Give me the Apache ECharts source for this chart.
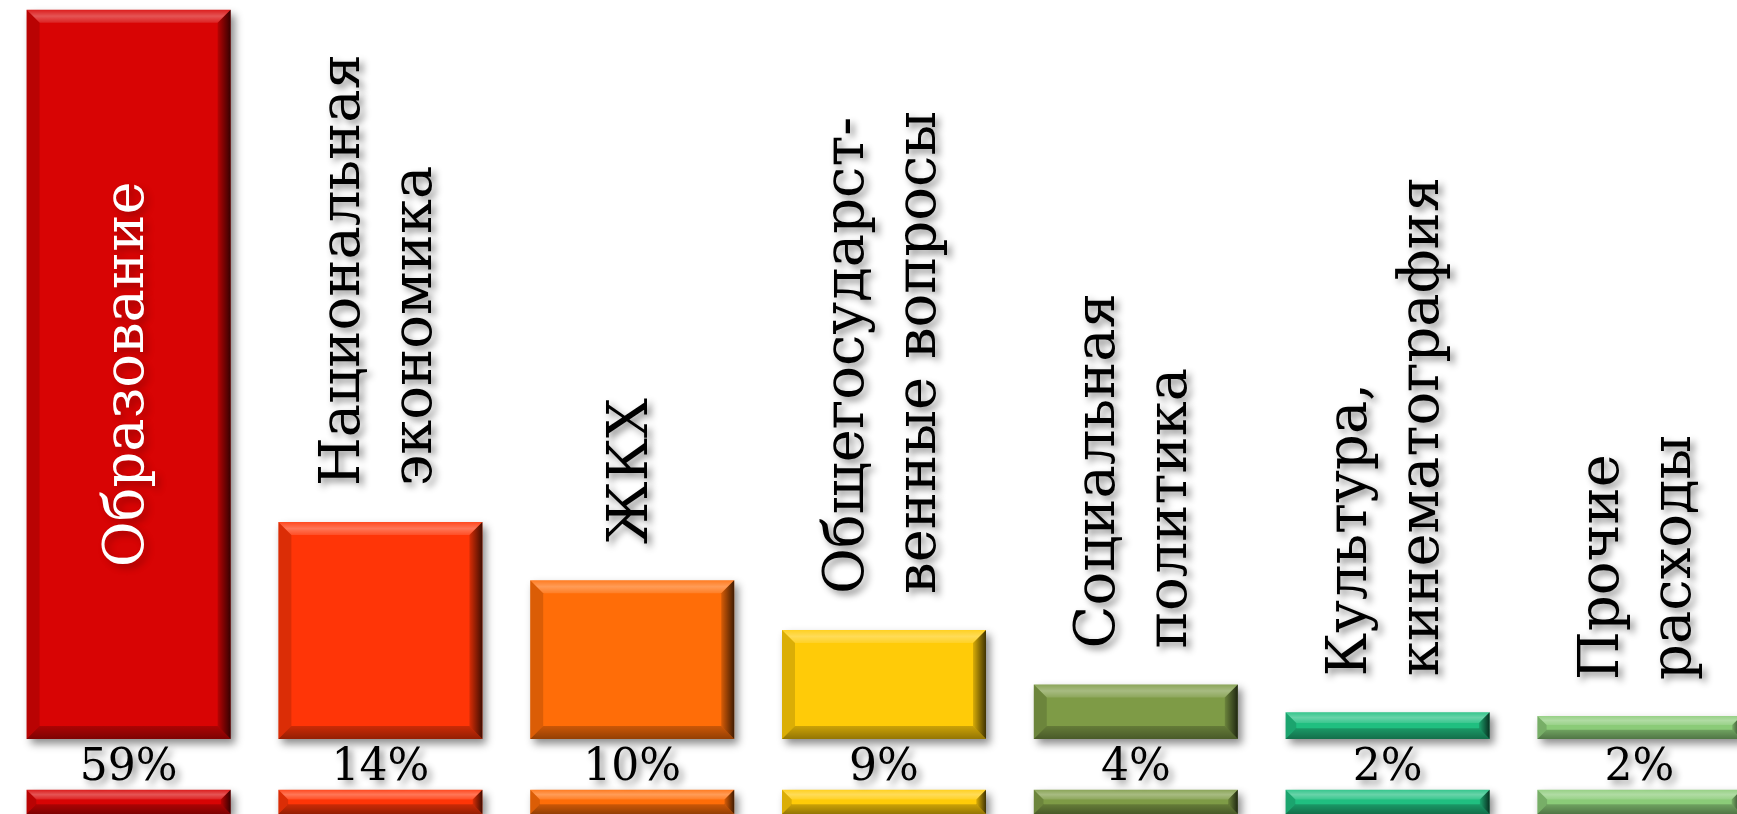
<!DOCTYPE html>
<html>
<head>
<meta charset="utf-8">
<script src="https://cdn.jsdelivr.net/npm/echarts/dist/echarts.min.js"></script>
<style>
html,body{margin:0;padding:0;background:#ffffff;}
#chart{width:1737px;height:814px;}
</style>
</head>
<body>
<div id="chart"></div>
<script>
// ---- data ----
const categories = [
  "Образование",
  "Национальная\nэкономика",
  "ЖКХ",
  "Общегосударст-\nвенные вопросы",
  "Социальная\nполитика",
  "Культура,\nкинематография",
  "Прочие\nрасходы"
];
// bar heights as drawn (in the chart's value units)
const barValues = [60.2, 17.9, 13.1, 9.0, 4.5, 2.2, 1.9];
// share labels printed under the bars
const shareLabels = ["59%", "14%", "10%", "9%", "4%", "2%", "2%"];
// thin bars of the second (cut-off) row at the bottom
const lowerValues = [2, 2, 2, 2, 2, 2, 2];

// ---- styling ----
const colors = ['#D80404', '#FF3507', '#FF6D08', '#FFCB08', '#7E9B46', '#20BF80', '#8BCB78'];
const BAR_W = 204;
const GAP = 4.2;          // empty band between the two rows (value units)
const FONT = '"DejaVu Serif", "Liberation Serif", serif';

const chart = echarts.init(document.getElementById('chart'), null, {renderer: 'canvas'});

const textShadow = {
  textShadowColor: 'rgba(0,0,0,0.45)',
  textShadowBlur: 7,
  textShadowOffsetX: 4,
  textShadowOffsetY: 4
};

function bevelItem(params, api) {
  const i = api.value(0), v0 = api.value(1), v1 = api.value(2);
  const pA = api.coord([i, v0]), pB = api.coord([i, v1]);
  const x0 = pA[0] - BAR_W / 2, x1 = pA[0] + BAR_W / 2;
  const yT = Math.min(pA[1], pB[1]), yB = Math.max(pA[1], pB[1]);
  const h = yB - yT;
  const b = Math.min(13, h * 0.4);
  const poly = (pts, fill) => ({type: 'polygon', shape: {points: pts}, style: {fill: fill}, silent: true});
  return {
    type: 'group',
    children: [
      poly([[x0, yT], [x1, yT], [x1 - b, yT + b], [x0 + b, yT + b]],
        new echarts.graphic.LinearGradient(0, 0, 0, 1, [
          {offset: 0, color: 'rgba(255,255,255,0.10)'},
          {offset: 0.5, color: 'rgba(255,255,255,0.32)'},
          {offset: 1, color: 'rgba(255,255,255,0.12)'}
        ])),
      poly([[x0, yT], [x0 + b, yT + b], [x0 + b, yB - b], [x0, yB]], 'rgba(0,0,0,0.14)'),
      poly([[x1, yT], [x1, yB], [x1 - b, yB - b], [x1 - b, yT + b]],
        new echarts.graphic.LinearGradient(0, 0, 1, 0, [
          {offset: 0, color: 'rgba(0,0,0,0.15)'},
          {offset: 1, color: 'rgba(0,0,0,0.75)'}
        ])),
      poly([[x0, yB], [x1, yB], [x1 - b, yB - b], [x0 + b, yB - b]],
        new echarts.graphic.LinearGradient(0, 0, 0, 1, [
          {offset: 0, color: 'rgba(0,0,0,0.20)'},
          {offset: 1, color: 'rgba(0,0,0,0.42)'}
        ]))
    ]
  };
}

const barShadow = {
  shadowBlur: 8,
  shadowColor: 'rgba(0,0,0,0.45)',
  shadowOffsetX: 4,
  shadowOffsetY: 5
};

const mainData = barValues.map((v, i) => i === 0 ? {
  value: v,
  label: {position: 'inside', align: 'center', verticalAlign: 'middle', color: '#ffffff', distance: 0,
          textShadowColor: 'rgba(0,0,0,0.25)'}
} : v);

const bevelData = barValues.map((v, i) => [i, 0, v])
  .concat(lowerValues.map((v, i) => [i, -GAP, -GAP - v]));

const option = {
  animation: false,
  backgroundColor: '#ffffff',
  grid: {left: 2.7, right: -28.3, top: 0, bottom: 0, containLabel: false, outerBoundsMode: 'none'},
  xAxis: {
    type: 'category',
    data: categories,
    show: false
  },
  yAxis: {
    type: 'value',
    min: -6.2,
    max: 61,
    show: false
  },
  series: [
    {
      name: 'main',
      type: 'bar',
      stack: 'a',
      barWidth: BAR_W,
      data: mainData,
      itemStyle: Object.assign({color: p => colors[p.dataIndex]}, barShadow),
      label: Object.assign({
        show: true,
        position: 'top',
        distance: 36,
        rotate: 90,
        align: 'left',
        verticalAlign: 'middle',
        formatter: p => categories[p.dataIndex],
        fontFamily: FONT,
        fontSize: 56,
        lineHeight: 72,
        color: '#000000'
      }, textShadow),
      z: 2
    },
    {
      name: 'gap',
      type: 'bar',
      stack: 'a',
      barWidth: BAR_W,
      data: categories.map(() => -GAP),
      itemStyle: {color: 'rgba(0,0,0,0)'},
      label: Object.assign({
        show: true,
        position: 'inside',
        offset: [0, 4],
        formatter: p => shareLabels[p.dataIndex],
        fontFamily: FONT,
        fontSize: 44,
        color: '#000000'
      }, textShadow),
      z: 2
    },
    {
      name: 'lower',
      type: 'bar',
      stack: 'a',
      barWidth: BAR_W,
      data: lowerValues.map(v => -v),
      itemStyle: Object.assign({color: p => colors[p.dataIndex]}, barShadow),
      z: 2
    },
    {
      name: 'bevel',
      type: 'custom',
      renderItem: bevelItem,
      encode: {x: 0, y: [1, 2]},
      data: bevelData,
      silent: true,
      z: 3
    }
  ]
};

chart.setOption(option);
</script>
</body>
</html>
